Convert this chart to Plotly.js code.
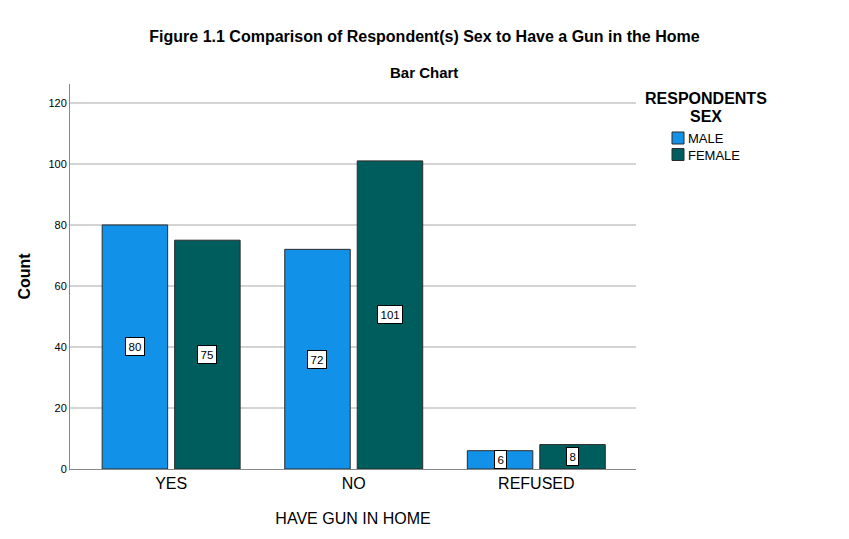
<!DOCTYPE html>
<html>
<head>
<meta charset="utf-8">
<script src="https://cdn.plot.ly/plotly-3.0.1.min.js"></script>
<style>
  html, body { margin: 0; padding: 0; background: #fff; }
  #chart { width: 849px; height: 539px; }
</style>
</head>
<body>
<div id="chart"></div>
<script>
// data
var categories = ['YES', 'NO', 'REFUSED'];
var maleCounts = [80, 72, 6];
var femaleCounts = [75, 101, 8];
var yTicks = [0, 20, 40, 60, 80, 100, 120];
var seriesNames = ['MALE', 'FEMALE'];
var seriesColors = ['#1192e8', '#005d5d'];

var FONT = 'Liberation Sans, Arial, sans-serif';

// plot box in page pixels, used to place the hand-drawn legend
var M = { l: 70, r: 213, t: 84, b: 70 };
var PW = 849 - M.l - M.r, PH = 539 - M.t - M.b;
function px(x) { return (x - M.l) / PW; }
function py(y) { return (539 - M.b - y) / PH; }

function barTrace(name, values, color) {
    return {
        type: 'bar', name: name, x: categories, y: values,
        marker: { color: color, line: { color: '#2b2b2b', width: 1 } },
        hoverinfo: 'skip'
    };
}

// white boxed value labels sitting at mid-height of each bar
function valueLabels(values, shift) {
    return values.map(function (v, i) {
        return {
            x: categories[i], y: v / 2, xref: 'x', yref: 'y', xshift: shift,
            text: String(v), showarrow: false,
            font: { family: FONT, size: 11.5, color: '#000' },
            bgcolor: '#fff', bordercolor: '#000', borderwidth: 1, borderpad: 2.5
        };
    });
}

function paperText(text, x, y, size, anchor) {
    return {
        text: text, xref: 'paper', yref: 'paper', x: px(x), y: py(y),
        xanchor: anchor || 'center', yanchor: 'middle', showarrow: false,
        font: { family: FONT, size: size, color: '#000' }
    };
}

var annotations = [].concat(
    valueLabels(maleCounts, -36.25),
    valueLabels(femaleCounts, 36.25),
    [
        paperText('<b>Bar Chart</b>', 424, 72, 15),
        paperText('<b>RESPONDENTS</b>', 706, 98.5, 16),
        paperText('<b>SEX</b>', 706, 116, 16)
    ]
);

// legend: swatch squares with names right beside them, as SPSS draws it
var shapes = [];
seriesNames.forEach(function (name, i) {
    var top = 132 + i * 16.5;
    shapes.push({
        type: 'rect', xref: 'paper', yref: 'paper',
        x0: px(672), x1: px(684), y0: py(top + 12), y1: py(top),
        fillcolor: seriesColors[i], line: { color: '#2b2b2b', width: 1 }
    });
    annotations.push(paperText(name, 686, top + 6.5, 13, 'left'));
});

var layout = {
    width: 849, height: 539,
    paper_bgcolor: '#fff', plot_bgcolor: '#fff',
    margin: M,
    font: { family: FONT, color: '#000' },
    title: {
        text: '<b>Figure 1.1 Comparison of Respondent(s) Sex to Have a Gun in the Home</b>',
        xref: 'container', x: 0.5, yref: 'container', y: 0.933, yanchor: 'middle',
        font: { family: FONT, size: 16, color: '#000' }
    },
    barmode: 'group', bargap: 0.206, bargroupgap: 0.0966,
    xaxis: {
        range: [-0.554, 2.546], showline: true, linecolor: '#888', linewidth: 1,
        ticks: '', tickfont: { size: 16, color: '#000' },
        title: { text: 'HAVE GUN IN HOME', font: { size: 16, color: '#000' }, standoff: 21 }
    },
    yaxis: {
        range: [0, 126.2], tickvals: yTicks, showline: true, linecolor: '#888', linewidth: 1,
        showgrid: true, gridcolor: '#d4d4d4', gridwidth: 1.5, zeroline: false,
        ticks: '', tickfont: { size: 11, color: '#000' },
        title: { text: '<b>Count</b>', font: { size: 16, color: '#000' }, standoff: 13 }
    },
    shapes: shapes,
    annotations: annotations,
    showlegend: false
};

Plotly.newPlot('chart', [
    barTrace(seriesNames[0], maleCounts, seriesColors[0]),
    barTrace(seriesNames[1], femaleCounts, seriesColors[1])
], layout, { displayModeBar: false, staticPlot: true });
</script>
</body>
</html>
